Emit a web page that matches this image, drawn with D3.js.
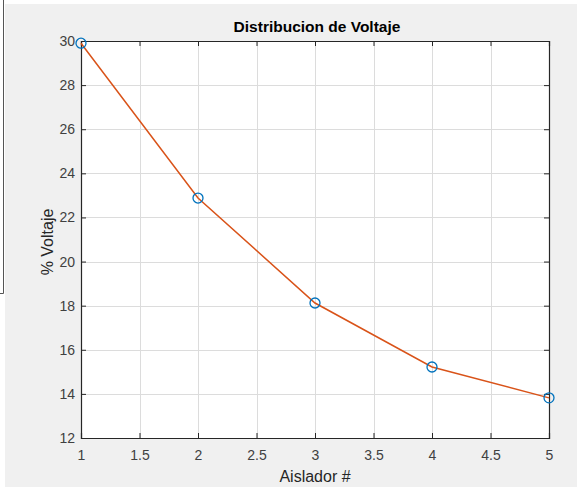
<!DOCTYPE html>
<html><head><meta charset="utf-8">
<script src="https://cdn.jsdelivr.net/npm/d3@7"></script>
<style>html,body{margin:0;padding:0;background:#fff;}svg{display:block;}</style>
</head><body>
<svg id="c" width="577" height="491"></svg>
<script>
const aislador = [1, 2, 3, 4, 5];
const voltaje = [29.9, 22.88, 18.12, 15.22, 13.82];
const xTicks = [1, 1.5, 2, 2.5, 3, 3.5, 4, 4.5, 5];
const yTicks = [12, 14, 16, 18, 20, 22, 24, 26, 28, 30];
const title = "Distribucion de Voltaje";
const xLabel = "Aislador #";
const yLabel = "% Voltaje";

const svg = d3.select("#c");
const font = "'Liberation Sans', Arial, Helvetica, sans-serif";
// figure background
svg.append("rect").attr("x",5).attr("y",4).attr("width",572).attr("height",483).attr("fill","#f0f0f0");
svg.append("path").attr("d","M3.5,0 V293.5 H0").attr("fill","none").attr("stroke","#555").attr("stroke-width",1);

const L=81, T=41, R=549, B=438;
const x = d3.scaleLinear().domain([1,5]).range([L,R]);
const y = d3.scaleLinear().domain([12,30]).range([B,T]);

svg.append("rect").attr("x",L).attr("y",T).attr("width",R-L).attr("height",B-T).attr("fill","#fff");

// grid
const g = svg.append("g");
g.selectAll(".gx").data(xTicks).join("line")
  .attr("x1",d=>Math.round(x(d))+0.5).attr("x2",d=>Math.round(x(d))+0.5).attr("y1",T).attr("y2",B)
  .attr("stroke","#dcdcdc").attr("stroke-width",1);
g.selectAll(".gy").data(yTicks).join("line")
  .attr("y1",d=>Math.round(y(d))+0.5).attr("y2",d=>Math.round(y(d))+0.5).attr("x1",L).attr("x2",R)
  .attr("stroke","#dcdcdc").attr("stroke-width",1);

// axes with inward ticks
const axB = d3.axisBottom(x).tickValues(xTicks).tickSize(-5).tickPadding(12).tickFormat(d3.format("~g"));
const axL = d3.axisLeft(y).tickValues(yTicks).tickSize(-5).tickPadding(6).tickFormat(d3.format("~g"));
const axT = d3.axisTop(x).tickValues(xTicks).tickSize(-5).tickFormat("");
const axR = d3.axisRight(y).tickValues(yTicks).tickSize(-5).tickFormat("");
function style(sel){
  sel.selectAll("path").attr("stroke","#262626").attr("stroke-width",1.2);
  sel.selectAll("line").attr("stroke","#262626");
  sel.selectAll("text").attr("fill","#404040").attr("font-family",font).attr("font-size",14);
}
svg.append("g").attr("transform",`translate(0,${B})`).call(axB).call(style);
svg.append("g").attr("transform",`translate(${L},0)`).call(axL).call(style);
svg.append("g").attr("transform",`translate(0,${T})`).call(axT).call(style);
svg.append("g").attr("transform",`translate(${R},0)`).call(axR).call(style);

// line
const pts = aislador.map((a,i)=>[a, voltaje[i]]);
svg.append("path").datum(pts)
  .attr("d", d3.line().x(d=>x(d[0])).y(d=>y(d[1])))
  .attr("fill","none").attr("stroke","#D95319").attr("stroke-width",1.5);
svg.selectAll(".m").data(pts).join("circle")
  .attr("cx",d=>x(d[0])).attr("cy",d=>y(d[1])).attr("r",5)
  .attr("fill","none").attr("stroke","#0072BD").attr("stroke-width",1.3);

// labels
svg.append("text").attr("x",317).attr("y",32).attr("text-anchor","middle")
  .attr("font-family",font).attr("font-size",15.5).attr("font-weight","bold").attr("fill","#000").text(title);
svg.append("text").attr("x",315).attr("y",482).attr("text-anchor","middle")
  .attr("font-family",font).attr("font-size",16).attr("fill","#262626").text(xLabel);
svg.append("text").attr("transform",`translate(53,${242}) rotate(-90)`).attr("text-anchor","middle")
  .attr("font-family",font).attr("font-size",16).attr("fill","#262626").text(yLabel);
</script>
</body></html>
